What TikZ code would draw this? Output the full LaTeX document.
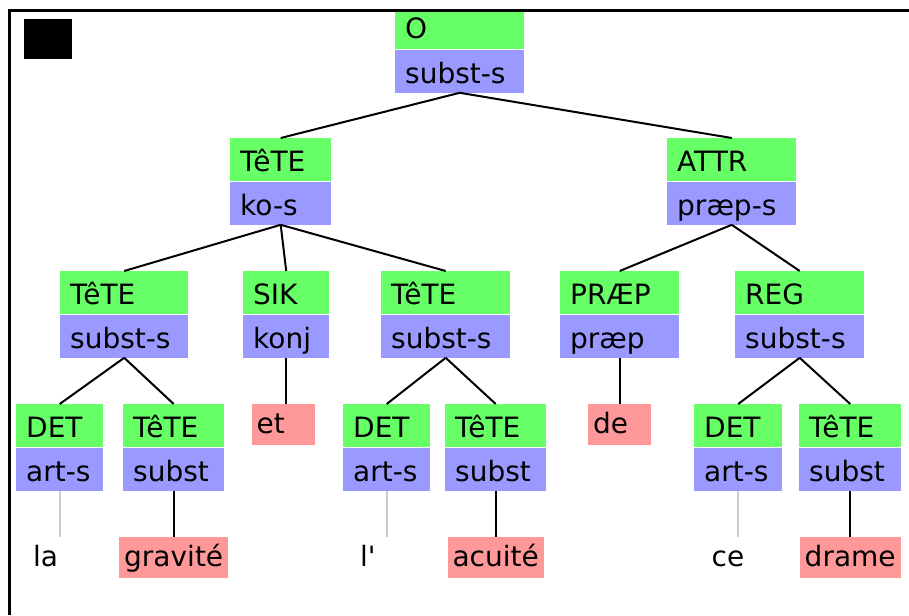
\documentclass[tikz,border=0pt]{standalone}
\usepackage{fontspec}
\setmainfont{DejaVu Sans}
\newfontfamily\plainfont{DejaVu Sans}
\usetikzlibrary{positioning}
\definecolor{lgreen}{HTML}{66FF66}
\definecolor{lblue}{HTML}{9999FF}
\definecolor{lpink}{HTML}{FF9999}
\definecolor{lgray}{HTML}{CCCCCC}
\tikzset{
  base/.style={inner ysep=0pt, inner xsep=10pt, align=left, anchor=north west,
    font=\fontsize{28}{30}\selectfont},
  gbox/.style={base, fill=lgreen, text height=33pt, text depth=10pt},
  bbox/.style={base, fill=lblue, text height=34pt, text depth=9pt},
  leafbase/.style={inner ysep=0pt, inner xsep=5pt, anchor=north,
    font=\fontsize{28}{30}\selectfont, text height=29pt, text depth=12pt},
  leaf/.style={leafbase, fill=lpink},
  shortleaf/.style={leafbase, text width=53pt, align=left},
  edge/.style={line width=2pt, black},
  gedge/.style={line width=2pt, lgray},
}
% name, x-left, width-20, y-top, label, category
\newcommand\tnode[6]{%
  \node[gbox, text width=#3pt] (#1) at (#2pt,-#4pt) {#5};
  \node[bbox, text width=#3pt] (#1c) at (#1.south west) {#6};
}
\begin{document}
\begin{tikzpicture}[x=1pt,y=1pt]
\useasboundingbox (0,0) rectangle (909,-615);
\fill[white] (0,0) rectangle (909,-615);

% root
\node[base, fill=lgreen, text width=109pt, text height=26pt, text depth=11pt] (r) at (395,-12) {O};
\node[bbox, text width=109pt] (rc) at (r.south west) {subst-s};

\tnode{t1}{230}{81}{138}{TêTE}{ko-s}
\tnode{a1}{667}{109}{138}{ATTR}{præp-s}
\tnode{t2}{60}{108}{271}{TêTE}{subst-s}
\tnode{s2}{243}{66}{271}{SIK}{konj}
\tnode{t3}{381}{109}{271}{TêTE}{subst-s}
\tnode{p2}{560}{99}{271}{PRÆP}{præp}
\tnode{g2}{735}{109}{271}{REG}{subst-s}
\tnode{d4}{16}{67}{404}{DET}{art-s}
\tnode{h4}{123}{81}{404}{TêTE}{subst}
\tnode{d5}{343}{67}{404}{DET}{art-s}
\tnode{h5}{445}{81}{404}{TêTE}{subst}
\tnode{d6}{694}{68}{404}{DET}{art-s}
\tnode{h6}{799}{82}{404}{TêTE}{subst}

% leaves
\node[leaf, shortleaf, fill=lpink] (et) at ([xshift=-3pt,yshift=-46pt]s2c.south) {et};
\node[leaf, shortleaf, fill=lpink] (de) at ([yshift=-46pt]p2c.south) {de};
\node[shortleaf] (la) at ([yshift=-46pt]d4c.south) {la};
\node[leaf] (gr) at ([yshift=-46pt]h4c.south) {gravité};
\node[shortleaf] (lp) at ([yshift=-46pt]d5c.south) {\plainfont l'};
\node[leaf] (ac) at ([yshift=-46pt]h5c.south) {acuité};
\node[shortleaf] (ce) at ([yshift=-46pt]d6c.south) {ce};
\node[leaf] (dr) at ([yshift=-46pt]h6c.south) {drame};

% edges
\draw[edge] (rc.south) -- (t1.north);
\draw[edge] (rc.south) -- (a1.north);
\draw[edge] (t1c.south) -- (t2.north);
\draw[edge] (t1c.south) -- (s2.north);
\draw[edge] (t1c.south) -- (t3.north);
\draw[edge] (a1c.south) -- (p2.north);
\draw[edge] (a1c.south) -- (g2.north);
\draw[edge] (t2c.south) -- (d4.north);
\draw[edge] (t2c.south) -- (h4.north);
\draw[edge] (t3c.south) -- (d5.north);
\draw[edge] (t3c.south) -- (h5.north);
\draw[edge] (g2c.south) -- (d6.north);
\draw[edge] (g2c.south) -- (h6.north);
\draw[edge] (s2c.south) -- (s2c.south |- et.north);
\draw[edge] (p2c.south) -- (de.north);
\draw[edge] (h4c.south) -- (gr.north);
\draw[edge] (h5c.south) -- (ac.north);
\draw[edge] (h6c.south) -- (dr.north);
\draw[gedge] (d4c.south) -- (la.north);
\draw[gedge] (d5c.south) -- (lp.north);
\draw[gedge] (d6c.south) -- (ce.north);

% frame and black square
\draw[line width=3pt] (9,-615) -- (9,-11) -- (909,-11);
\fill[black] (24,-19) rectangle (72,-59);
\end{tikzpicture}
\end{document}
